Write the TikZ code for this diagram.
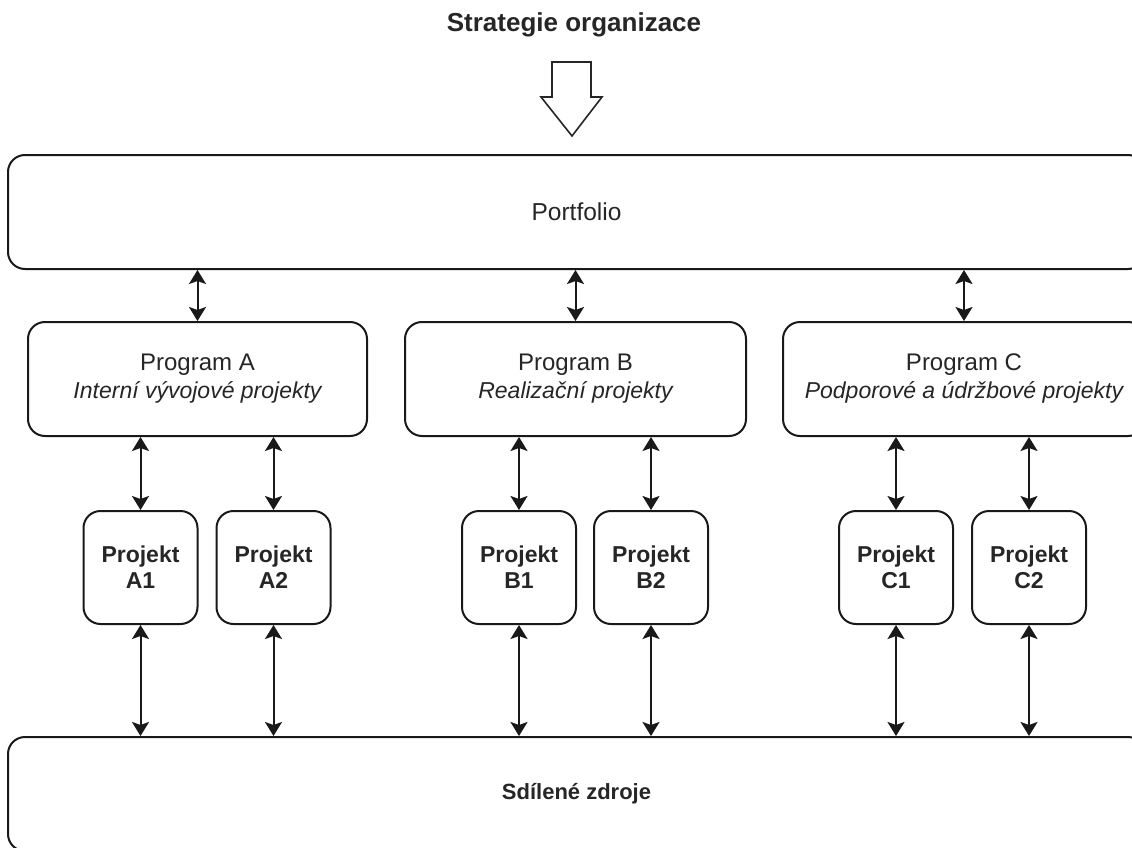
\documentclass[tikz,border=0pt]{standalone}
\usepackage{fontspec}
\setmainfont{Liberation Sans}
\usetikzlibrary{arrows.meta}
\begin{document}
\begin{tikzpicture}[x=1pt,y=-1pt,
  box/.style={draw=black!90, line width=2pt, rounded corners=17pt, align=center,
    text=black!85, inner sep=0pt, fill=white},
  bigbox/.style={box, minimum width=1137pt, minimum height=114pt},
  progbox/.style={box, minimum height=114pt, font=\fontsize{24}{28}\selectfont},
  projbox/.style={box, minimum width=114pt, minimum height=113pt,
    font=\bfseries\fontsize{23}{26}\selectfont},
  conn/.style={line width=2pt, draw=black!90, fill=black!90,
    >={Stealth[length=14pt,width=17pt,inset=3pt]}, <->}
]
\useasboundingbox (0,0) rectangle (1132,848);
\clip (0,0) rectangle (1132,848);
\fill[white] (0,0) rectangle (1132,848);

% title
\node[anchor=base, text=black!85, font=\bfseries\fontsize{26}{30}\selectfont] (title) at (574,32) {Strategie organizace};

% block arrow
\draw[line width=1.6pt, draw=black!85, fill=white, line join=miter]
  (552,62) -- (591,62) -- (591,97) -- (602,97) -- (572,136) -- (541,97) -- (552,97) -- cycle;

% main boxes
\node[bigbox, font=\fontsize{24.5}{28}\selectfont] (portfolio) at (576.5,212) {Portfolio};
\node[bigbox, font=\bfseries\fontsize{22}{26}\selectfont] (shared) at (576.5,794) {Sdílené zdroje};

% programs
\node[progbox, minimum width=339pt] (progA) at (197.5,379)
  {Program A\\{\itshape\fontsize{23}{27}\selectfont Interní vývojové projekty}};
\node[progbox, minimum width=341pt] (progB) at (575.5,379)
  {Program B\\{\itshape\fontsize{23}{27}\selectfont Realizační projekty}};
\node[progbox, minimum width=362pt] (progC) at (964,379)
  {Program C\\{\itshape\fontsize{23}{27}\selectfont Podporové a údržbové projekty}};

% projects
\node[projbox] (pA1) at (140.5,567.5) {Projekt\\A1};
\node[projbox] (pA2) at (273.5,567.5) {Projekt\\A2};
\node[projbox] (pB1) at (519,567.5) {Projekt\\B1};
\node[projbox] (pB2) at (651,567.5) {Projekt\\B2};
\node[projbox] (pC1) at (896,567.5) {Projekt\\C1};
\node[projbox] (pC2) at (1029,567.5) {Projekt\\C2};

% connectors portfolio - programs
\foreach \p in {progA,progB,progC}
  \draw[conn] (portfolio.south -| \p.north) -- (\p.north);

% connectors programs - projects
\draw[conn] (pA1.north |- progA.south) -- (pA1.north);
\draw[conn] (pA2.north |- progA.south) -- (pA2.north);
\draw[conn] (pB1.north |- progB.south) -- (pB1.north);
\draw[conn] (pB2.north |- progB.south) -- (pB2.north);
\draw[conn] (pC1.north |- progC.south) -- (pC1.north);
\draw[conn] (pC2.north |- progC.south) -- (pC2.north);

% connectors projects - shared resources
\foreach \p in {pA1,pA2,pB1,pB2,pC1,pC2}
  \draw[conn] (\p.south) -- (\p.south |- shared.north);
\end{tikzpicture}
\end{document}
